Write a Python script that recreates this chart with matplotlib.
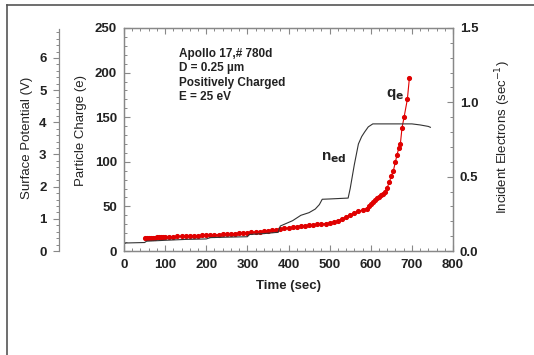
import numpy as np
import matplotlib
matplotlib.use("Agg")
import matplotlib.pyplot as plt
from matplotlib.ticker import MultipleLocator
from matplotlib.lines import Line2D

plt.rcParams["font.family"] = ["Liberation Sans", "DejaVu Sans"]

# q_e : particle charge (e) vs time (s)
t_q = [50, 55, 60, 65, 70, 75, 80, 85, 90, 95, 100, 110, 120, 130, 140, 150,
       160, 170, 180, 190, 200, 210, 220, 230, 240, 250, 260, 270, 280, 290,
       300, 310, 320, 330, 340, 350, 360, 370, 380, 390, 400, 410, 420, 430,
       440, 450, 460, 470, 480, 490, 500, 510, 520, 530, 540, 550, 560, 570,
       580, 590, 595, 600, 605, 610, 615, 620, 625, 630, 635, 640, 645, 650,
       655, 660, 664, 668, 672, 676, 681, 689, 694]
q_e = [14.6, 14.7, 14.8, 14.9, 15.1, 15.1, 15.2, 15.3, 15.4, 15.6, 15.7, 15.8,
       16.0, 16.3, 16.4, 16.6, 16.9, 17.0, 17.2, 17.5, 17.6, 17.9, 18.1, 18.3,
       18.6, 18.9, 19.1, 19.5, 19.8, 20.0, 20.4, 20.8, 21.1, 21.7, 22.2, 22.7,
       23.4, 24.0, 24.6, 25.4, 26.0, 26.7, 27.4, 27.9, 28.3, 28.9, 29.3, 29.8,
       30.2, 30.7, 31.5, 32.4, 34.0, 36.0, 38.2, 40.4, 42.5, 44.3, 46.0, 47.6,
       50.0, 53.0, 55.0, 57.0, 59.0, 61.0, 62.5, 64.0, 66.0, 71.0, 77.0, 84.0,
       90.0, 100.0, 108.0, 115.0, 120.0, 138.0, 150.0, 170.0, 194.0]

# n_ed : incident electrons (1/s) vs time (s)
t_n = [0, 5, 50, 55, 100, 150, 200, 210, 250, 300, 305, 340, 375, 380, 395,
       410, 430, 450, 465, 475, 482, 500, 545, 550, 560, 570, 578, 585, 594,
       605, 650, 700, 720, 740, 745]
n_ed = [0.048, 0.054, 0.057, 0.066, 0.072, 0.078, 0.081, 0.090, 0.093, 0.096,
        0.111, 0.117, 0.126, 0.168, 0.186, 0.204, 0.240, 0.258, 0.282, 0.312,
        0.348, 0.350, 0.356, 0.42, 0.58, 0.72, 0.77, 0.80, 0.835, 0.855, 0.855,
        0.855, 0.848, 0.838, 0.832]

notes = ["Apollo 17,# 780d", "D = 0.25 \u00b5m", "Positively Charged", "E = 25 eV"]

W, H = 534, 355
fig = plt.figure(figsize=(W / 100, H / 100), dpi=100)
fig.patch.set_facecolor("white")

# frame lines around the figure (top and left)
fig.add_artist(Line2D([7 / W, 1], [1 - 5 / H, 1 - 5 / H], color="#555555", lw=1.2))
fig.add_artist(Line2D([7 / W, 7 / W], [0, 1 - 5 / H], color="#555555", lw=1.2))

spine_c = "#888888"
txt_c = "#222222"
tick_fs = 9.5

x0, x1 = 124 / W, 453 / W
y0, y1 = 1 - 251 / H, 1 - 28 / H
ax = fig.add_axes([x0, y0, x1 - x0, y1 - y0])
ax2 = ax.twinx()

ax.plot(t_q, q_e, color="#e00000", lw=0.8, marker="o", ms=2.7, mec="#e00000",
        mfc="#e00000", zorder=3)
ax2.plot(t_n, n_ed, color="#333333", lw=0.8, zorder=2)

ax.set_xlim(0, 800)
ax.set_ylim(0, 250)
ax2.set_ylim(0, 1.5)

ax.xaxis.set_major_locator(MultipleLocator(100))
ax.xaxis.set_minor_locator(MultipleLocator(20))
ax.yaxis.set_major_locator(MultipleLocator(50))
ax.yaxis.set_minor_locator(MultipleLocator(10))
ax2.yaxis.set_major_locator(MultipleLocator(0.5))
ax2.yaxis.set_minor_locator(MultipleLocator(0.1))
ax2.yaxis.set_major_formatter(plt.FormatStrFormatter("%.1f"))

for a in (ax, ax2):
    for s in a.spines.values():
        s.set_color(spine_c)
        s.set_linewidth(0.9)
ax.tick_params(which="both", direction="in", top=True, color=spine_c,
               labelsize=tick_fs, labelcolor=txt_c)
ax.tick_params(axis="x", which="both", pad=6)
ax.tick_params(axis="y", which="both", pad=5)
ax.tick_params(which="major", length=4, width=0.8)
ax.tick_params(which="minor", length=2.5, width=0.7)
ax2.tick_params(which="both", direction="in", color=spine_c, labelsize=tick_fs,
                labelcolor=txt_c, pad=5)
ax2.tick_params(which="major", length=4, width=0.8)
ax2.tick_params(which="minor", length=2.5, width=0.7)
for lab in ax.get_xticklabels() + ax.get_yticklabels() + ax2.get_yticklabels():
    lab.set_fontweight("bold")

ax.set_xlabel("Time (sec)", fontsize=9.5, fontweight="bold", color=txt_c, labelpad=6)

# surface potential axis, standalone spine on the far left
sx = 59 / W
ys0, ys1 = 1 - 251 / H, 1 - 29 / H
axs = fig.add_axes([sx, ys0, 0.001, ys1 - ys0])
axs.set_ylim(0, 6.9)
axs.patch.set_visible(False)
for k in ("top", "right", "bottom"):
    axs.spines[k].set_visible(False)
axs.spines["left"].set_color(spine_c)
axs.spines["left"].set_linewidth(0.9)
axs.set_xticks([])
axs.yaxis.set_major_locator(MultipleLocator(1))
axs.yaxis.set_minor_locator(MultipleLocator(0.2))
axs.tick_params(which="both", direction="out", color=spine_c, labelsize=tick_fs,
                labelcolor=txt_c, pad=5)
axs.tick_params(which="major", length=4, width=0.8)
axs.tick_params(which="minor", length=2.5, width=0.7)
for lab in axs.get_yticklabels():
    lab.set_fontweight("bold")

fig.text(27 / W, 1 - 138 / H, "Surface Potential (V)", rotation=90, fontsize=9.5,
         color=txt_c, ha="center", va="center")
fig.text(81 / W, 1 - 131 / H, "Particle Charge (e)", rotation=90, fontsize=9.5,
         color=txt_c, ha="center", va="center")
fig.text(503 / W, 1 - 137 / H, "Incident Electrons (sec$^{-1}$)", rotation=90,
         fontsize=9.5, color=txt_c, ha="center", va="center")

for i, s in enumerate(notes):
    fig.text(179 / W, 1 - (54 + 14.5 * i) / H, s, fontsize=8.5, fontweight="bold",
             color=txt_c, ha="left", va="center")

fig.text(321 / W, 1 - 158 / H, r"n$_{\mathbf{ed}}$", fontsize=11,
         fontweight="bold", color=txt_c, ha="left", va="center")
fig.text(386 / W, 1 - 94 / H, r"q$_{\mathbf{e}}$", fontsize=11,
         fontweight="bold", color=txt_c, ha="left", va="center")

fig.savefig("out.png", dpi=100)
